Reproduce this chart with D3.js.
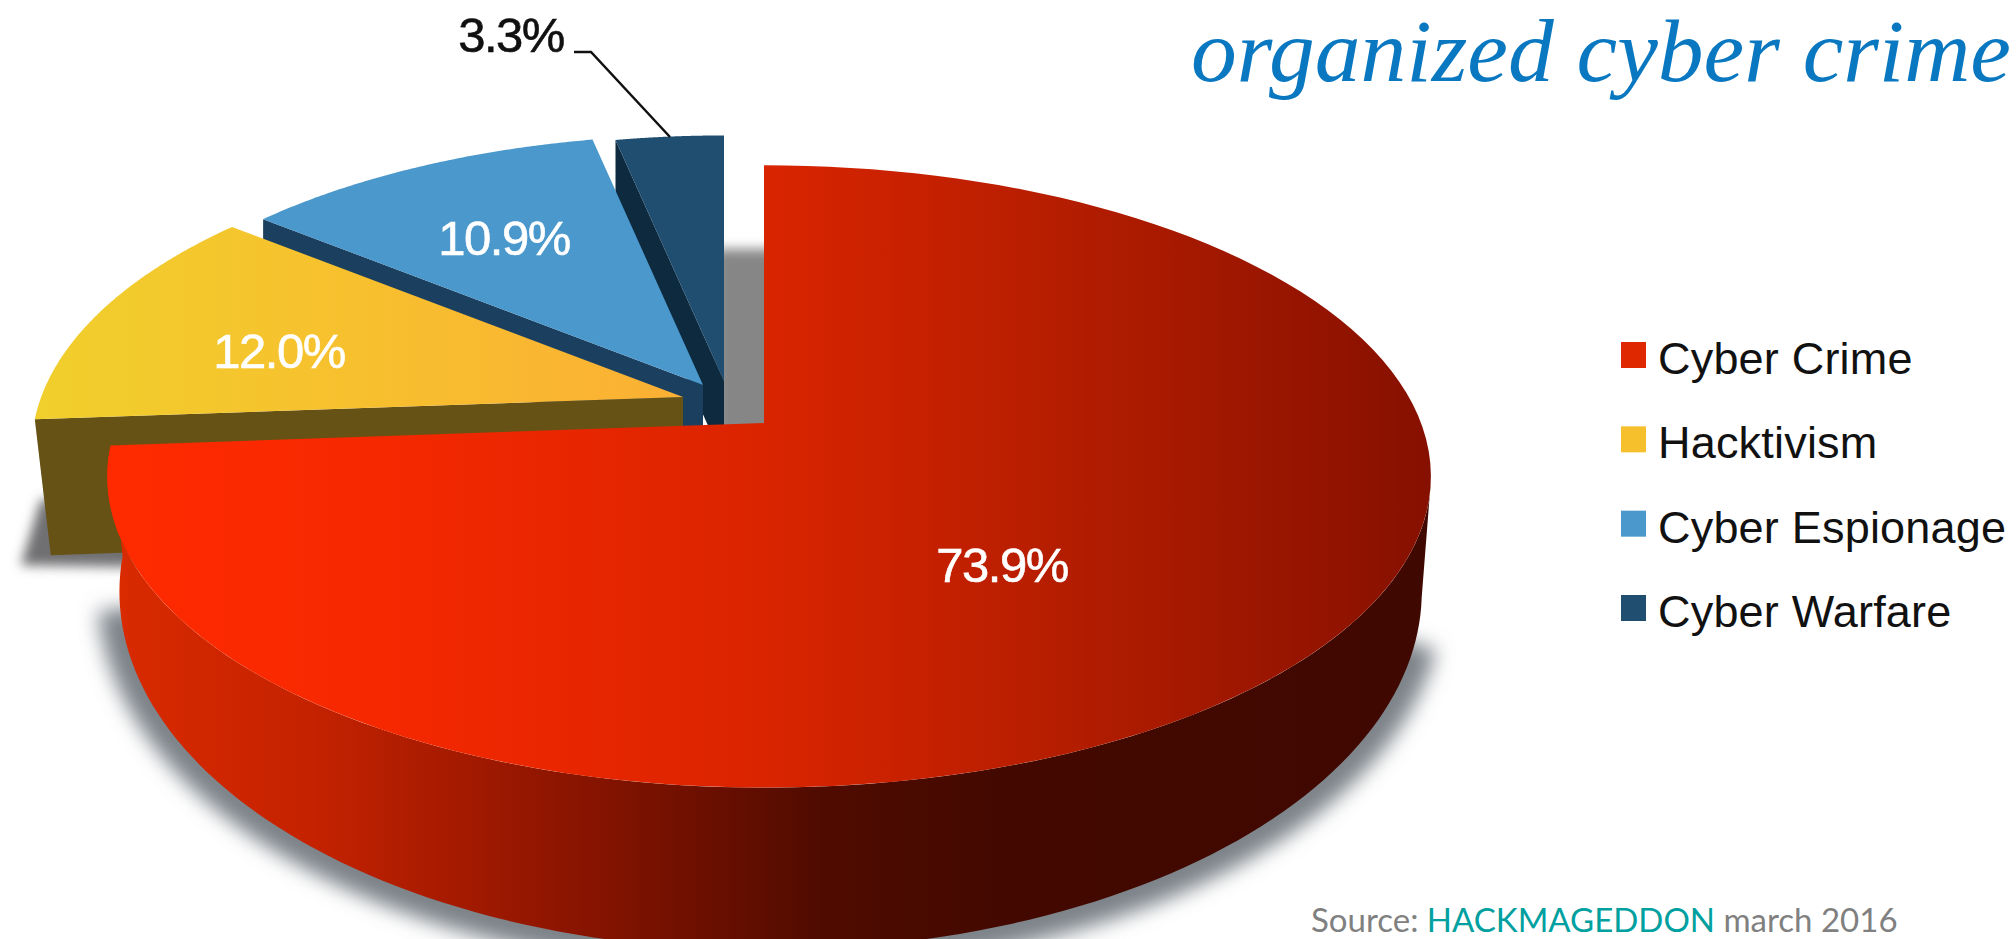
<!DOCTYPE html>
<html>
<head>
<meta charset="utf-8">
<script src="https://cdn.jsdelivr.net/npm/d3@7"></script>
<style>
  body { margin: 0; background: #fff; }
  svg { display: block; }
  text { font-family: "Liberation Sans", sans-serif; }
</style>
</head>
<body>
<svg id="chart"></svg>
<script>
// data
const categories = ['Cyber Crime', 'Hacktivism', 'Cyber Espionage', 'Cyber Warfare'];
const values = [73.9, 12.0, 10.9, 3.3];
const valueLabels = ['73.9%', '12.0%', '10.9%', '3.3%'];
const title = 'organized cyber crime';

const w = 2016;
const h = 939;

// where each exploded slice has its tip, and how far its rim reaches
const apexX = [764, 683, 703, 724];
const apexY = [423, 397, 385, 381];
const rimScale = [1, 0.992, 0.965, 0.945];
const labelX = [1002, 279, 504, 511];
const labelY = [582, 368, 255, 52];
const labelColor = ['#fff', '#fff', '#fff', '#111'];

// perspective of the tilted disc
const tilt = 0.1717;
const xTop = d3.scaleLinear().domain([-1, 0, 1]).range([-647, 0, 657]);
const yTop = d3.scaleLinear().domain([-1, 1]).range([302, -302]);
const xBottom = d3.scaleLinear().domain([-1, 0, 1]).range([-635, 0, 648]);
const yBottom = d3.scaleLinear().domain([-1, 1]).range([348, -348]);
const bottomY = 530;

const topPoint = (a, i) => {
    const u = rimScale[i] * Math.sin(a);
    const v = rimScale[i] * Math.cos(a);
    const s = 1 + tilt * v;
    return [apexX[i] + xTop(u / s), apexY[i] + yTop(v / s)];
};

const bottomPoint = a => {
    const u = Math.sin(a);
    const v = Math.cos(a);
    const s = 1 + tilt * v;
    return [apexX[0] + xBottom(u / s), bottomY + yBottom(v / s)];
};

const steps = (a0, a1) => d3.range(0, 121).map(k => a0 + (a1 - a0) * k / 120);
const line = d3.line();

const chart = d3.select('#chart')
    .attr('width', w)
    .attr('height', h)
    .attr('viewBox', [0, 0, w, h]);

const defs = chart.append('defs');

const addGradient = (id, x1, x2, stops) => {
    const g = defs.append('linearGradient')
        .attr('id', id)
        .attr('gradientUnits', 'userSpaceOnUse')
        .attr('x1', x1).attr('x2', x2)
        .attr('y1', 0).attr('y2', 0);
    stops.forEach(s => g.append('stop').attr('offset', s[0]).attr('stop-color', s[1]));
};

addGradient('redTop', 110, 1431, [[0, '#ff2a00'], [0.2, '#f62800'], [0.5, '#d92400'], [0.7, '#b81e00'], [1, '#861000']]);
addGradient('redSide', 119, 1419, [[0, '#d92a00'], [0.15, '#c42200'], [0.29, '#9c1800'], [0.45, '#6c0f00'], [0.54, '#500b00'], [0.68, '#430900'], [1, '#3f0800']]);
addGradient('yellowTop', 32, 681, [[0, '#f0cf2c'], [0.5, '#f7c02e'], [1, '#fbb034']]);

const blur = (id, sd) => defs.append('filter')
    .attr('id', id)
    .attr('x', '-30%').attr('y', '-30%')
    .attr('width', '160%').attr('height', '160%')
    .append('feGaussianBlur').attr('stdDeviation', sd);
blur('blurBig', 10);
blur('blurSmall', 6);

const pie = d3.pie().sort(null).value(d => d);
const slices = pie(values);

const topFill = ['url(#redTop)', 'url(#yellowTop)', '#4a98cc', '#1f4e70'];
const wallFill = [null, '#665214', '#1b3f5f', '#0e2a3f'];
const wallDepth = [0, 136, 80, 80];
const wallDrift = [0, 16, 0, 0];

const topFace = (d, i) => {
    const rim = steps(d.startAngle, d.endAngle).map(a => topPoint(a, i));
    return line([[apexX[i], apexY[i]], ...rim]) + 'Z';
};

// the radial wall under the edge a slice starts from
const wall = (d, i) => {
    const corner = topPoint(d.startAngle, i);
    return line([
        [apexX[i], apexY[i]],
        corner,
        [corner[0] + wallDrift[i], corner[1] + wallDepth[i]],
        [apexX[i], apexY[i] + wallDepth[i]]
    ]) + 'Z';
};

// shadows sit behind everything
chart.append('rect')
    .attr('x', 715).attr('y', 249)
    .attr('width', 90).attr('height', 190)
    .attr('fill', '#868686')
    .attr('filter', 'url(#blurSmall)');

const yellowCorner = topPoint(slices[1].startAngle, 1);
chart.append('path')
    .attr('d', line([
        [yellowCorner[0] + 6, yellowCorner[1] + 80],
        [yellowCorner[0] - 14, yellowCorner[1] + 146],
        [yellowCorner[0] + 110, yellowCorner[1] + 148],
        [yellowCorner[0] + 110, yellowCorner[1] + 80]
    ]) + 'Z')
    .attr('fill', '#6f7072')
    .attr('filter', 'url(#blurSmall)');

chart.append('path')
    .attr('d', line(steps(Math.PI * 0.6, Math.PI * 1.43).map(bottomPoint)))
    .attr('fill', 'none')
    .attr('stroke', '#7c8288')
    .attr('stroke-width', 44)
    .attr('filter', 'url(#blurBig)');

// back to front: warfare, espionage, hacktivism, crime
[3, 2, 1].forEach(i => {
    chart.append('path').attr('d', wall(slices[i], i)).attr('fill', wallFill[i]);
    chart.append('path').attr('d', topFace(slices[i], i)).attr('fill', topFill[i]);
});

const sideAngles = steps(Math.PI * 0.56, slices[0].endAngle);
chart.append('path')
    .attr('d', line([
        ...sideAngles.map(a => topPoint(a, 0)),
        ...sideAngles.slice().reverse().map(bottomPoint)
    ]) + 'Z')
    .attr('fill', 'url(#redSide)');

chart.append('path')
    .attr('d', topFace(slices[0], 0))
    .attr('fill', topFill[0]);

// value labels
chart.selectAll('text.value')
    .data(valueLabels)
    .join('text')
    .attr('class', 'value')
    .attr('x', (d, i) => labelX[i])
    .attr('y', (d, i) => labelY[i])
    .attr('text-anchor', 'middle')
    .attr('font-size', 49)
    .attr('letter-spacing', -1.5)
    .attr('fill', (d, i) => labelColor[i])
    .attr('stroke', (d, i) => labelColor[i])
    .attr('stroke-width', 0.6)
    .text(d => d);

// leader line for the small slice
chart.append('path')
    .attr('d', 'M574,52H591L670,137')
    .attr('fill', 'none')
    .attr('stroke', '#111')
    .attr('stroke-width', 2.5);

// legend
const legendColor = d3.scaleOrdinal()
    .domain(categories)
    .range(['#e02800', '#f6c02c', '#4a98cc', '#1f4e70']);
const legendY = d3.scalePoint()
    .domain(categories)
    .range([355, 608]);

const legend = chart.append('g');
legend.selectAll('rect')
    .data(categories)
    .join('rect')
    .attr('x', 1621)
    .attr('y', d => legendY(d) - 13)
    .attr('width', 25)
    .attr('height', 26)
    .attr('fill', d => legendColor(d));

legend.selectAll('text')
    .data(categories)
    .join('text')
    .attr('x', 1658)
    .attr('y', d => legendY(d) + 19)
    .attr('font-size', 45)
    .attr('letter-spacing', 0.2)
    .attr('fill', '#111')
    .text(d => d);

// title in the top right corner
chart.append('text')
    .attr('x', 1191)
    .attr('y', 81)
    .attr('textLength', 820)
    .attr('lengthAdjust', 'spacingAndGlyphs')
    .style('font-family', '"Liberation Serif", serif')
    .style('font-style', 'italic')
    .attr('font-size', 88)
    .attr('fill', '#0a78c0')
    .text(title);

// source line
const source = chart.append('text')
    .attr('x', 1311)
    .attr('y', 932)
    .style('font-family', 'Lato, sans-serif')
    .attr('font-size', 33)
    .attr('fill', '#808080');
source.append('tspan').text('Source: ');
source.append('tspan').attr('fill', '#00a0a0').text('HACKMAGEDDON');
source.append('tspan').text(' march 2016');
</script>
</body>
</html>
